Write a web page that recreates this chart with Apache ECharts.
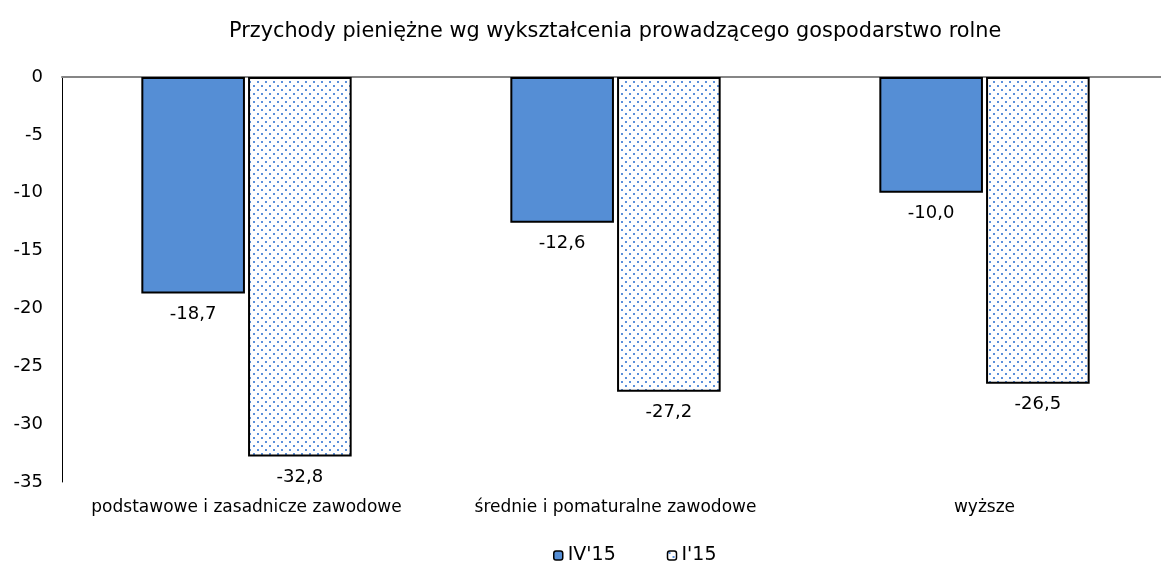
<!DOCTYPE html>
<html>
<head>
<meta charset="utf-8">
<script src="https://cdn.jsdelivr.net/npm/echarts@6/dist/echarts.min.js"></script>
<style>
  html, body { margin: 0; padding: 0; background: #fff; overflow: hidden; }
  #chart { width: 1169px; height: 567px; }
</style>
</head>
<body>
<div id="chart"></div>
<script>
// dane
var categories = ["podstawowe i zasadnicze zawodowe", "średnie i pomaturalne zawodowe", "wyższe"];
var seriesNames = ["IV'15", "I'15"];
var valuesIV15 = [-18.7, -12.6, -10.0];
var valuesI15 = [-32.8, -27.2, -26.5];
var yTicks = { min: -35, max: 0, interval: 5 };

var FONT = "DejaVu Sans";

// wzór kropkowany
function dotPattern() {
  var c = document.createElement("canvas");
  c.width = 8;
  c.height = 8;
  var ctx = c.getContext("2d");
  ctx.fillStyle = "#ffffff";
  ctx.fillRect(0, 0, 8, 8);
  ctx.fillStyle = "#5b90da";
  ctx.fillRect(1, 1, 2, 2);
  ctx.fillRect(5, 5, 2, 2);
  return c;
}

function fmt(p) {
  return p.value.toFixed(1).replace(".", ",");
}

var myChart = echarts.init(document.getElementById("chart"));
var option = {
  backgroundColor: "#fff",
  animation: false,
  title: {
    text: "Przychody pieniężne wg wykształcenia prowadzącego gospodarstwo rolne",
    left: 224,
    top: 16,
    textStyle: { fontFamily: FONT, fontSize: 20.8, fontWeight: "normal", color: "#000" }
  },
  legend: {
    left: 548,
    top: 541,
    itemWidth: 9,
    itemHeight: 9,
    itemGap: 51,
    textStyle: { fontFamily: FONT, fontSize: 19, color: "#000" },
    data: [
      { name: seriesNames[0], itemStyle: { color: "#558ed5", borderColor: "#000", borderWidth: 1.5 } },
      { name: seriesNames[1], itemStyle: { color: { image: dotPattern(), repeat: "repeat" }, borderColor: "#000", borderWidth: 1.5 } }
    ]
  },
  grid: { left: 62, top: 77, right: 0, height: 405 },
  xAxis: [
    {
      type: "category",
      data: categories,
      position: "bottom",
      axisLine: { show: false, onZero: false },
      axisTick: { show: false },
      axisLabel: { interval: 0, fontFamily: FONT, fontSize: 17, color: "#000", margin: 17 }
    },
    {
      type: "category",
      data: categories,
      position: "top",
      axisLine: { show: true, onZero: false, lineStyle: { color: "#868686", width: 2 } },
      axisTick: { show: false },
      axisLabel: { show: false }
    }
  ],
  yAxis: {
    type: "value",
    min: yTicks.min,
    max: yTicks.max,
    interval: yTicks.interval,
    axisLine: { show: true, lineStyle: { color: "#000", width: 1 } },
    axisTick: { show: false },
    splitLine: { show: false },
    axisLabel: { fontFamily: FONT, fontSize: 18, color: "#000", margin: 19 }
  },
  series: [
    {
      name: seriesNames[0],
      type: "bar",
      data: valuesIV15,
      barCategoryGap: "43%",
      barGap: "3%",
      itemStyle: { color: "#558ed5", borderColor: "#000", borderWidth: 2 },
      label: { show: true, position: "bottom", distance: 12, formatter: fmt,
        fontFamily: FONT, fontSize: 18, color: "#000" }
    },
    {
      name: seriesNames[1],
      type: "bar",
      data: valuesI15,
      itemStyle: { color: { image: dotPattern(), repeat: "repeat" }, borderColor: "#000", borderWidth: 2 },
      label: { show: true, position: "bottom", distance: 12, formatter: fmt,
        fontFamily: FONT, fontSize: 18, color: "#000" }
    }
  ]
};
option && myChart.setOption(option);
</script>
</body>
</html>
